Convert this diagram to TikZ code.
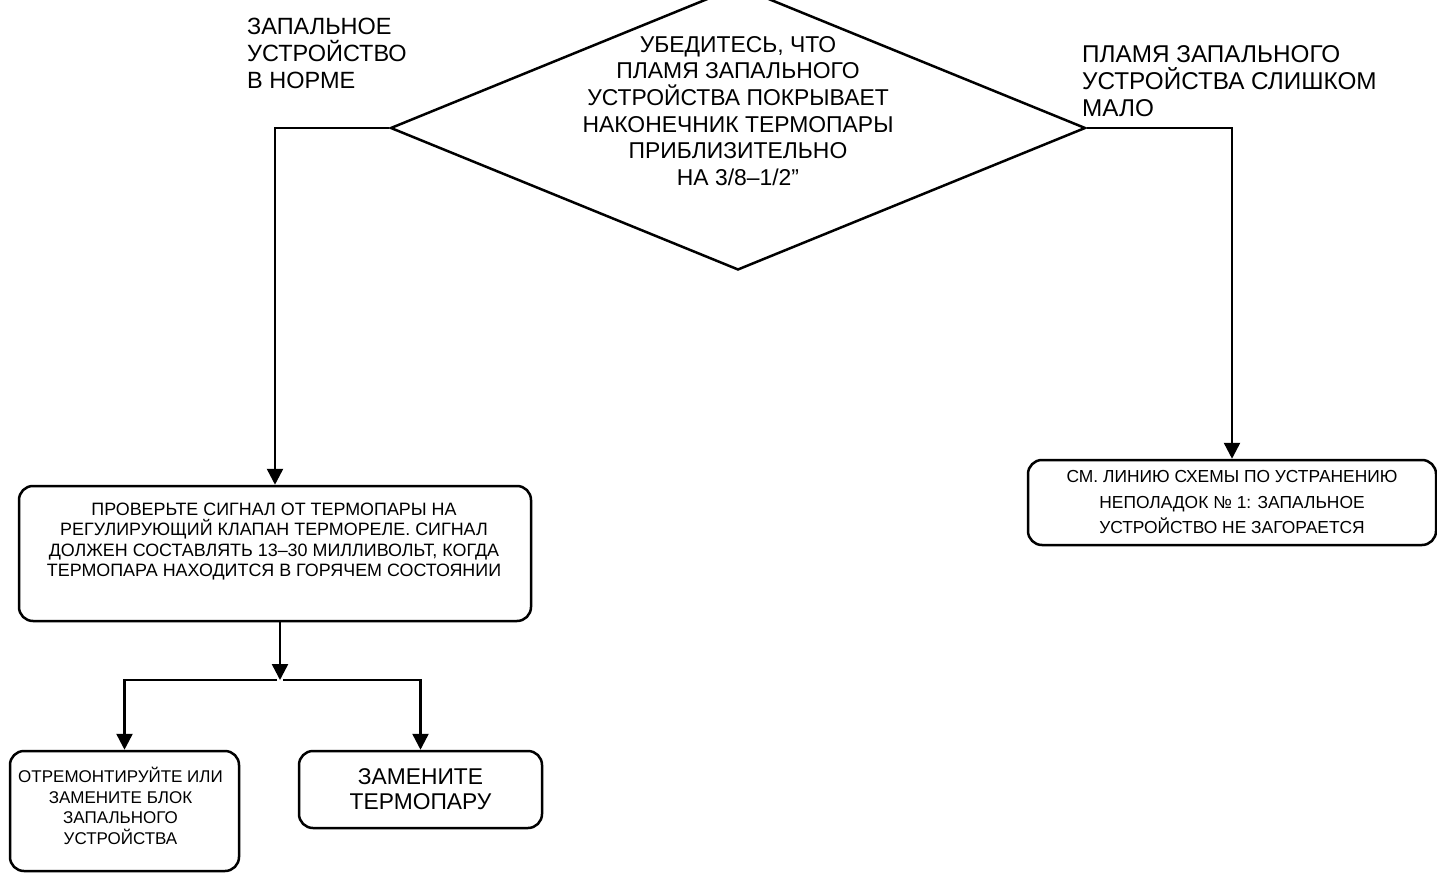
\documentclass[tikz,border=0pt]{standalone}
\usepackage{fontspec}
\setmainfont{Liberation Sans}
\usetikzlibrary{shapes.geometric,arrows.meta}
\tikzset{
  x=1pt,y=-1pt,
  arr/.style={line width=2.5pt,-{Triangle[width=16pt,length=16pt]}},
  box/.style={draw,line width=2.5pt,rounded corners=14pt,inner sep=0pt},
  txt/.style={align=center,inner sep=0pt},
  lbl/.style={align=left,inner sep=0pt,anchor=north west},
}
\begin{document}
\begin{tikzpicture}
\useasboundingbox (0,0) rectangle (1437,877);
% decision
\node[diamond,draw,line width=2.5pt,minimum width=695pt,minimum height=284pt,inner sep=0pt] (d) at (738,128) {};
\node[txt,font=\fontsize{22.9}{26.6}\selectfont] (dt) at (738,111) {УБЕДИТЕСЬ, ЧТО\\ПЛАМЯ ЗАПАЛЬНОГО\\УСТРОЙСТВА ПОКРЫВАЕТ\\НАКОНЕЧНИК ТЕРМОПАРЫ\\ПРИБЛИЗИТЕЛЬНО\\НА 3/8–1/2”};
% branch labels
\node[lbl,font=\fontsize{23.5}{27}\selectfont] (l1) at (247,18) {ЗАПАЛЬНОЕ\\УСТРОЙСТВО\\В НОРМЕ};
\node[lbl,font=\fontsize{24.3}{27}\selectfont] (l2) at (1082,45) {ПЛАМЯ ЗАПАЛЬНОГО\\УСТРОЙСТВА СЛИШКОМ\\МАЛО};
% boxes
\node[box,minimum width=512pt,minimum height=135pt] (b1) at (275,553.5) {};
\node[txt,font=\fontsize{17.9}{20.5}\selectfont] (b1t) at (274,541.5) {ПРОВЕРЬТЕ СИГНАЛ ОТ ТЕРМОПАРЫ НА\\РЕГУЛИРУЮЩИЙ КЛАПАН ТЕРМОРЕЛЕ. СИГНАЛ\\ДОЛЖЕН СОСТАВЛЯТЬ 13–30 МИЛЛИВОЛЬТ, КОГДА\\ТЕРМОПАРА НАХОДИТСЯ В ГОРЯЧЕМ СОСТОЯНИИ};
\node[box,minimum width=229pt,minimum height=120pt] (b2) at (124.5,811) {};
\node[txt,font=\fontsize{17}{20.5}\selectfont] (b2t) at (120.5,806) {ОТРЕМОНТИРУЙТЕ ИЛИ\\ЗАМЕНИТЕ БЛОК\\ЗАПАЛЬНОГО\\УСТРОЙСТВА};
\node[box,minimum width=243pt,minimum height=77pt,font=\fontsize{22.8}{25}\selectfont,align=center] (b3) at (420.5,789.5) {ЗАМЕНИТЕ\\ТЕРМОПАРУ};
\node[box,minimum width=408pt,minimum height=85pt,font=\fontsize{17.4}{25.5}\selectfont,align=center] (b4) at (1232,502.5) {СМ. ЛИНИЮ СХЕМЫ ПО УСТРАНЕНИЮ\\НЕПОЛАДОК № 1: ЗАПАЛЬНОЕ\\УСТРОЙСТВО НЕ ЗАГОРАЕТСЯ};
% connectors
\draw[arr] (d.west) -| (b1.north);
\draw[arr] (d.east) -| (b4.north);
\coordinate (j) at (280,680);
\draw[arr] (b1.south -| j) -- (j);
\draw[arr] ([xshift=-3pt]j) -| (b2.north);
\draw[arr] ([xshift=3pt]j) -| (b3.north);
\end{tikzpicture}
\end{document}
